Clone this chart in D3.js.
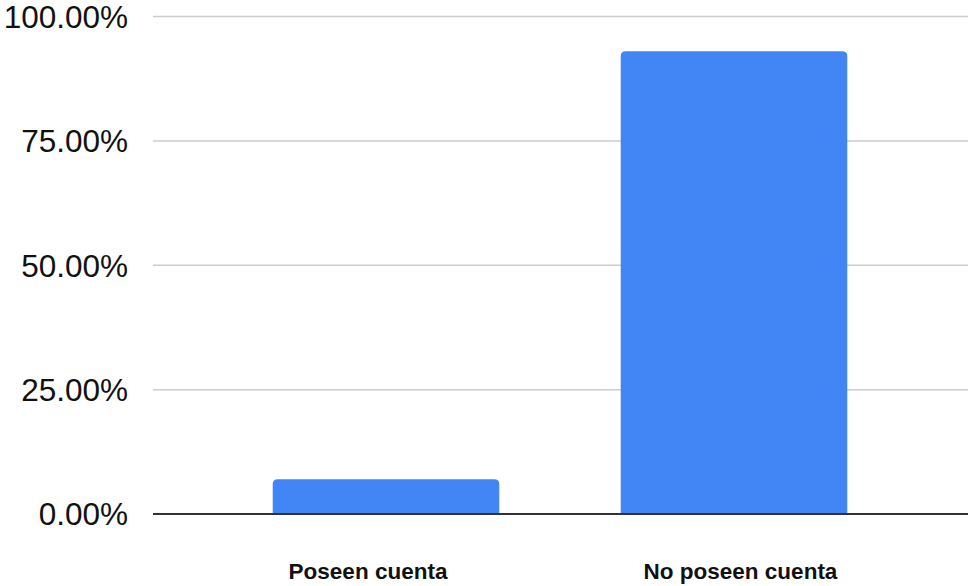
<!DOCTYPE html>
<html>
<head>
<meta charset="utf-8">
<script src="https://cdn.jsdelivr.net/npm/d3@7"></script>
<style>
  html, body { margin: 0; padding: 0; background: #fff; }
  svg { display: block; font-family: Arial, "Liberation Sans", Helvetica, sans-serif; }
</style>
</head>
<body>
<svg id="chart" width="969" height="586"></svg>
<script>
// Share of people with / without an account (percent)
const categories = ["Poseen cuenta", "No poseen cuenta"];
const values = [7, 93];
const yTicks = [0, 25, 50, 75, 100];

const W = 969, H = 586;
const plot = { left: 153, right: 968, top: 16.5, bottom: 514 };

const svg = d3.select("#chart");

const y = d3.scaleLinear().domain([0, 100]).range([plot.bottom, plot.top]);

const x = d3.scaleBand()
  .domain(categories)
  .range([212, 908])
  .paddingInner(0.349)
  .paddingOuter(0.1745);

// category labels sit on their own point scale
const xLabel = d3.scalePoint()
  .domain(categories)
  .range([368, 740.5]);

// gridlines
svg.append("g")
  .selectAll("line")
  .data(yTicks.filter(t => t !== 0))
  .join("line")
  .attr("x1", plot.left)
  .attr("x2", plot.right)
  .attr("y1", d => y(d))
  .attr("y2", d => y(d))
  .attr("stroke", "#cccccc")
  .attr("stroke-width", 1.5);

// y tick labels
svg.append("g")
  .selectAll("text")
  .data(yTicks)
  .join("text")
  .attr("x", 128)
  .attr("y", d => y(d))
  .attr("dy", "0.36em")
  .attr("text-anchor", "end")
  .attr("font-size", "31.5px")
  .attr("fill", "#111")
  .text(d => d3.format(".2f")(d) + "%");

// bars with rounded top corners
const r = 5;
function barPath(x0, w, yTop, yBase) {
  const rr = Math.min(r, (yBase - yTop), w / 2);
  return `M${x0},${yBase}V${yTop + rr}Q${x0},${yTop} ${x0 + rr},${yTop}` +
         `H${x0 + w - rr}Q${x0 + w},${yTop} ${x0 + w},${yTop + rr}V${yBase}Z`;
}
svg.append("g")
  .selectAll("path")
  .data(categories.map((c, i) => ({ c, v: values[i] })))
  .join("path")
  .attr("d", d => barPath(x(d.c), x.bandwidth(), y(d.v), y(0)))
  .attr("fill", "#4285f4");

// baseline
svg.append("line")
  .attr("x1", plot.left)
  .attr("x2", plot.right)
  .attr("y1", y(0))
  .attr("y2", y(0))
  .attr("stroke", "#333333")
  .attr("stroke-width", 2);

// category labels
svg.append("g")
  .selectAll("text")
  .data(categories)
  .join("text")
  .attr("x", d => xLabel(d))
  .attr("y", 579)
  .attr("text-anchor", "middle")
  .attr("font-size", "22.5px")
  .attr("font-weight", "bold")
  .attr("fill", "#111")
  .text(d => d);
</script>
</body>
</html>
